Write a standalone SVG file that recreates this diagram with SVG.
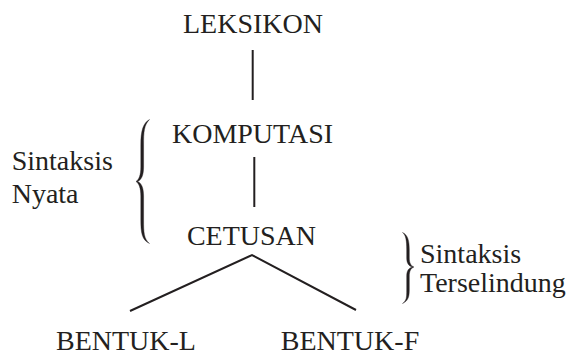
<svg xmlns="http://www.w3.org/2000/svg" width="573" height="356" viewBox="0 0 573 356">
<style>
text{font-size:28px;fill:#231f20}
.c{text-anchor:middle}
.ln{stroke:#231f20;stroke-width:2;fill:none}
.br{fill:#231f20;stroke:#231f20;stroke-width:0.4;stroke-linejoin:round}
</style>
<rect width="573" height="356" fill="#ffffff"/>
<g id="connectors">
<line class="ln" x1="252.7" y1="50" x2="252.7" y2="100"/>
<line class="ln" x1="254.3" y1="157" x2="254.3" y2="207"/>
<polyline class="ln" points="130,311 252,255 356,310"/>
</g>
<g font-family="'Liberation Serif', 'Times New Roman', Times, serif">
<g id="leksikon"><text class="c" x="253" y="33">LEKSIKON</text></g>
<g id="komputasi"><text class="c" x="252.5" y="143">KOMPUTASI</text></g>
<g id="cetusan"><text class="c" x="251.5" y="245">CETUSAN</text></g>
<g id="bentuk-l"><text class="c" x="126" y="350">BENTUK-L</text></g>
<g id="bentuk-f"><text class="c" x="350" y="350">BENTUK-F</text></g>
<g id="sintaksis-nyata">
<path class="br" d="M149.5,119.5 C143,123 140.8,131 140.8,145 L140.8,167 C140.8,175 139,179.5 136,181.5 C139,183.5 140.8,188 140.8,196 L140.8,220 C140.8,233 142,240 149.5,243.5 C143.8,239 143.6,232 143.6,220 L143.6,196 C143.6,188 141.5,183 137.6,181.5 C141.5,180 143.6,175 143.6,167 L143.6,145 C143.6,132 144,125 149.5,119.5 Z"/>
<text x="11.7" y="170">Sintaksis</text>
<text x="11.7" y="203">Nyata</text>
</g>
<g id="sintaksis-terselindung">
<path class="br" d="M402.5,232.5 C406,235 406.7,241 406.7,250 L406.7,258 C406.7,263 408.5,266 412.4,267 C408.5,268 406.7,271 406.7,276 L406.7,290 C406.7,298 406.5,300.5 402.5,303.5 C407.5,301 409.3,298 409.3,290 L409.3,276 C409.3,271 411,268 414,267 C411,266 409.3,263 409.3,258 L409.3,250 C409.3,241 408,235 402.5,232.5 Z"/>
<text x="420" y="263">Sintaksis</text>
<text x="420" y="292">Terselindung</text>
</g>
</g>
</svg>
